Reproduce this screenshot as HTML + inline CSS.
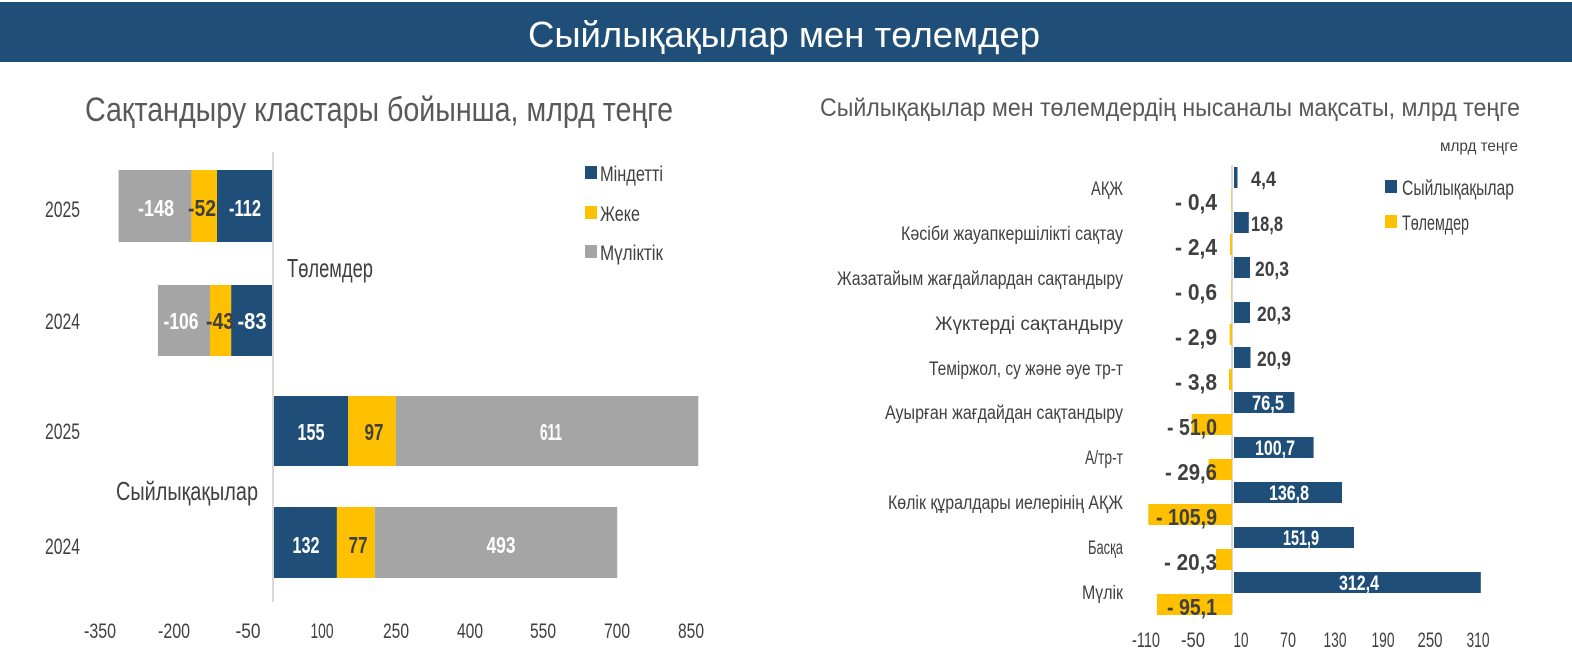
<!DOCTYPE html>
<html><head><meta charset="utf-8"><style>
html,body{margin:0;padding:0;background:#fff;}
svg{display:block;font-family:"Liberation Sans Narrow","Liberation Sans",sans-serif;}
</style></head><body>
<svg width="1572" height="668" viewBox="0 0 1572 668" xmlns="http://www.w3.org/2000/svg">
<rect x="0" y="2" width="1572" height="60" fill="#1f4e79"/>
<text x="784" y="47" fill="#fff" font-size="36" text-anchor="middle" textLength="512" lengthAdjust="spacingAndGlyphs">Сыйлықақылар мен төлемдер</text>
<text x="85" y="121" fill="#595959" font-size="34" textLength="588" lengthAdjust="spacingAndGlyphs">Сақтандыру кластары бойынша, млрд теңге</text>
<text x="820" y="116" fill="#595959" font-size="25" textLength="700" lengthAdjust="spacingAndGlyphs">Сыйлықақылар мен төлемдердің нысаналы мақсаты, млрд теңге</text>

<!-- Left chart -->
<line x1="273" y1="152" x2="273" y2="602" stroke="#d9d9d9" stroke-width="2"/>
<g font-size="22" fill="#404040">
<text x="45" y="217" textLength="35" lengthAdjust="spacingAndGlyphs">2025</text><text x="45" y="329" textLength="35" lengthAdjust="spacingAndGlyphs">2024</text>
<text x="45" y="439" textLength="35" lengthAdjust="spacingAndGlyphs">2025</text><text x="45" y="554" textLength="35" lengthAdjust="spacingAndGlyphs">2024</text>
</g>
<g>
<rect x="118.6" y="170" width="72.8" height="72" fill="#a5a5a5"/>
<rect x="191.4" y="170" width="25.6" height="72" fill="#ffc000"/>
<rect x="217" y="170" width="55" height="72" fill="#1f4e79"/>
<rect x="157.9" y="285" width="52.1" height="71" fill="#a5a5a5"/>
<rect x="210" y="285" width="21.2" height="71" fill="#ffc000"/>
<rect x="231.2" y="285" width="40.8" height="71" fill="#1f4e79"/>
<rect x="274" y="396" width="74.2" height="70" fill="#1f4e79"/>
<rect x="348.2" y="396" width="47.7" height="70" fill="#ffc000"/>
<rect x="395.9" y="396" width="302.4" height="70" fill="#a5a5a5"/>
<rect x="274" y="507" width="62.9" height="71" fill="#1f4e79"/>
<rect x="336.9" y="507" width="37.9" height="71" fill="#ffc000"/>
<rect x="374.8" y="507" width="242.4" height="71" fill="#a5a5a5"/>
</g>
<g font-size="23" font-weight="bold" text-anchor="middle">
<text x="156" y="216" fill="#fff" textLength="36" lengthAdjust="spacingAndGlyphs">-148</text>
<text x="202" y="216" fill="#404040" textLength="28" lengthAdjust="spacingAndGlyphs">-52</text>
<text x="245" y="216" fill="#fff" textLength="32" lengthAdjust="spacingAndGlyphs">-112</text>
<text x="181" y="329" fill="#fff" textLength="35" lengthAdjust="spacingAndGlyphs">-106</text>
<text x="220" y="329" fill="#404040" textLength="28" lengthAdjust="spacingAndGlyphs">-43</text>
<text x="252" y="329" fill="#fff" textLength="29" lengthAdjust="spacingAndGlyphs">-83</text>
<text x="311" y="440" fill="#fff" textLength="27" lengthAdjust="spacingAndGlyphs">155</text>
<text x="374" y="440" fill="#404040" textLength="19" lengthAdjust="spacingAndGlyphs">97</text>
<text x="551" y="440" fill="#fff" textLength="22" lengthAdjust="spacingAndGlyphs">611</text>
<text x="306" y="553" fill="#fff" textLength="27" lengthAdjust="spacingAndGlyphs">132</text>
<text x="358" y="553" fill="#404040" textLength="19" lengthAdjust="spacingAndGlyphs">77</text>
<text x="501" y="553" fill="#fff" textLength="29" lengthAdjust="spacingAndGlyphs">493</text>
</g>
<rect x="585" y="166" width="12" height="13" fill="#1f4e79"/>
<rect x="585" y="206" width="12" height="13" fill="#ffc000"/>
<rect x="585" y="245" width="12" height="13" fill="#a5a5a5"/>
<g font-size="21" fill="#404040">
<text x="600" y="181" textLength="63" lengthAdjust="spacingAndGlyphs">Міндетті</text>
<text x="600" y="221" textLength="40" lengthAdjust="spacingAndGlyphs">Жеке</text>
<text x="600" y="260" textLength="63" lengthAdjust="spacingAndGlyphs">Мүліктік</text>
</g>
<text x="287" y="277" font-size="26" fill="#404040" textLength="86" lengthAdjust="spacingAndGlyphs">Төлемдер</text>
<text x="116" y="500" font-size="26" fill="#404040" textLength="142" lengthAdjust="spacingAndGlyphs">Сыйлықақылар</text>
<g font-size="21" fill="#404040" text-anchor="middle">
<text x="100" y="638" textLength="32" lengthAdjust="spacingAndGlyphs">-350</text><text x="174" y="638" textLength="32" lengthAdjust="spacingAndGlyphs">-200</text><text x="248" y="638" textLength="25" lengthAdjust="spacingAndGlyphs">-50</text>
<text x="322" y="638" textLength="23" lengthAdjust="spacingAndGlyphs">100</text><text x="396" y="638" textLength="26" lengthAdjust="spacingAndGlyphs">250</text><text x="470" y="638" textLength="26" lengthAdjust="spacingAndGlyphs">400</text>
<text x="543" y="638" textLength="26" lengthAdjust="spacingAndGlyphs">550</text><text x="617" y="638" textLength="26" lengthAdjust="spacingAndGlyphs">700</text><text x="691" y="638" textLength="26" lengthAdjust="spacingAndGlyphs">850</text>
</g>

<!-- Right chart -->
<line x1="1232" y1="165" x2="1232" y2="614" stroke="#d9d9d9" stroke-width="2"/>
<text x="1518" y="151" font-size="16" fill="#404040" text-anchor="end" textLength="78" lengthAdjust="spacingAndGlyphs">млрд теңге</text>
<rect x="1385" y="180" width="12" height="13" fill="#1f4e79"/>
<rect x="1385" y="215" width="12" height="13" fill="#ffc000"/>
<text x="1402" y="195" font-size="21" fill="#404040" textLength="112" lengthAdjust="spacingAndGlyphs">Сыйлықақылар</text>
<text x="1402" y="230" font-size="21" fill="#404040" textLength="67" lengthAdjust="spacingAndGlyphs">Төлемдер</text>

<g fill="#1f4e79">
<rect x="1234" y="167" width="3.5" height="21"/>
<rect x="1234" y="212" width="14.8" height="21"/>
<rect x="1234" y="257" width="16" height="21"/>
<rect x="1234" y="302" width="16" height="21"/>
<rect x="1234" y="347" width="16.5" height="21"/>
<rect x="1234" y="392" width="60.4" height="21"/>
<rect x="1234" y="437" width="79.6" height="21"/>
<rect x="1234" y="482" width="108" height="21"/>
<rect x="1234" y="527" width="120" height="21"/>
<rect x="1234" y="572" width="246.8" height="21"/>
</g>
<g fill="#ffc000">
<rect x="1231" y="189" width="0.5" height="21"/>
<rect x="1230" y="234" width="1.9" height="21"/>
<rect x="1231" y="279" width="0.5" height="21"/>
<rect x="1229.7" y="324" width="2.3" height="21"/>
<rect x="1229" y="369" width="3" height="21"/>
<rect x="1191.7" y="414" width="40.3" height="21"/>
<rect x="1208.6" y="459" width="23.4" height="21"/>
<rect x="1148.3" y="504" width="83.7" height="21"/>
<rect x="1216" y="549" width="16" height="21"/>
<rect x="1156.9" y="594" width="75.1" height="21"/>
</g>
<g font-size="21" font-weight="bold" fill="#404040">
<text x="1251" y="186" textLength="25" lengthAdjust="spacingAndGlyphs">4,4</text>
<text x="1251" y="231" textLength="32" lengthAdjust="spacingAndGlyphs">18,8</text>
<text x="1255" y="276" textLength="34" lengthAdjust="spacingAndGlyphs">20,3</text>
<text x="1257" y="321" textLength="34" lengthAdjust="spacingAndGlyphs">20,3</text>
<text x="1257" y="366" textLength="34" lengthAdjust="spacingAndGlyphs">20,9</text>
</g>
<g font-size="21" font-weight="bold" fill="#fff" text-anchor="middle">
<text x="1268" y="410" textLength="32" lengthAdjust="spacingAndGlyphs">76,5</text>
<text x="1275" y="455" textLength="40" lengthAdjust="spacingAndGlyphs">100,7</text>
<text x="1289" y="500" textLength="40" lengthAdjust="spacingAndGlyphs">136,8</text>
<text x="1301" y="545" textLength="36" lengthAdjust="spacingAndGlyphs">151,9</text>
<text x="1359" y="590" textLength="40" lengthAdjust="spacingAndGlyphs">312,4</text>
</g>
<g font-size="23" font-weight="bold" fill="#404040" text-anchor="end">
<text x="1217" y="210" textLength="42" lengthAdjust="spacingAndGlyphs">- 0,4</text>
<text x="1217" y="255" textLength="42" lengthAdjust="spacingAndGlyphs">- 2,4</text>
<text x="1217" y="300" textLength="42" lengthAdjust="spacingAndGlyphs">- 0,6</text>
<text x="1217" y="345" textLength="42" lengthAdjust="spacingAndGlyphs">- 2,9</text>
<text x="1217" y="390" textLength="42" lengthAdjust="spacingAndGlyphs">- 3,8</text>
<text x="1217" y="435" textLength="50" lengthAdjust="spacingAndGlyphs">- 51,0</text>
<text x="1217" y="480" textLength="52" lengthAdjust="spacingAndGlyphs">- 29,6</text>
<text x="1217" y="525" textLength="61" lengthAdjust="spacingAndGlyphs">- 105,9</text>
<text x="1217" y="570" textLength="53" lengthAdjust="spacingAndGlyphs">- 20,3</text>
<text x="1217" y="615" textLength="50" lengthAdjust="spacingAndGlyphs">- 95,1</text>
</g>
<g font-size="19" fill="#404040" text-anchor="end">
<text x="1123" y="195" textLength="32" lengthAdjust="spacingAndGlyphs">АҚЖ</text>
<text x="1123" y="240" textLength="222" lengthAdjust="spacingAndGlyphs">Кәсіби жауапкершілікті сақтау</text>
<text x="1123" y="285" textLength="286" lengthAdjust="spacingAndGlyphs">Жазатайым жағдайлардан сақтандыру</text>
<text x="1123" y="330" textLength="188" lengthAdjust="spacingAndGlyphs">Жүктерді сақтандыру</text>
<text x="1123" y="375" textLength="194" lengthAdjust="spacingAndGlyphs">Теміржол, су және әуе тр-т</text>
<text x="1123" y="419" textLength="238" lengthAdjust="spacingAndGlyphs">Ауырған жағдайдан сақтандыру</text>
<text x="1123" y="464" textLength="38" lengthAdjust="spacingAndGlyphs">А/тр-т</text>
<text x="1123" y="509" textLength="235" lengthAdjust="spacingAndGlyphs">Көлік құралдары иелерінің АҚЖ</text>
<text x="1123" y="554" textLength="35" lengthAdjust="spacingAndGlyphs">Басқа</text>
<text x="1123" y="599" textLength="41" lengthAdjust="spacingAndGlyphs">Мүлік</text>
</g>
<g font-size="21" fill="#404040" text-anchor="middle">
<text x="1146" y="647" textLength="28" lengthAdjust="spacingAndGlyphs">-110</text><text x="1193" y="647" textLength="24" lengthAdjust="spacingAndGlyphs">-50</text><text x="1241" y="647" textLength="15" lengthAdjust="spacingAndGlyphs">10</text>
<text x="1288" y="647" textLength="16" lengthAdjust="spacingAndGlyphs">70</text><text x="1335" y="647" textLength="23" lengthAdjust="spacingAndGlyphs">130</text><text x="1383" y="647" textLength="23" lengthAdjust="spacingAndGlyphs">190</text>
<text x="1430" y="647" textLength="25" lengthAdjust="spacingAndGlyphs">250</text><text x="1478" y="647" textLength="23" lengthAdjust="spacingAndGlyphs">310</text>
</g>
</svg>
</body></html>
